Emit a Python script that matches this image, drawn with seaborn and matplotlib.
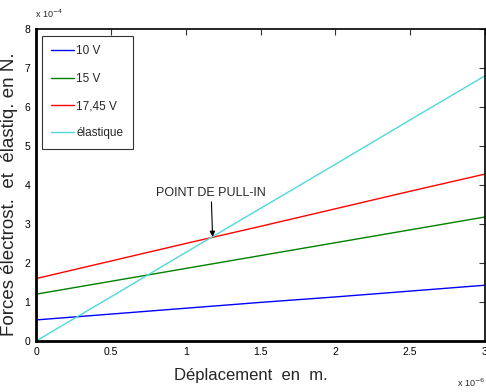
import matplotlib
matplotlib.use("Agg")
import matplotlib.pyplot as plt
import matplotlib.ticker as mticker
import seaborn as sns
import pandas as pd

# Data (x in m, y in N)
x_um = [0.0, 0.5, 1.0, 1.5, 2.0, 2.5, 3.0]          # ×1e-6 m
f_10v = [0.54, 0.69, 0.84, 0.99, 1.13, 1.28, 1.43]   # ×1e-4 N
f_15v = [1.20, 1.53, 1.86, 2.19, 2.52, 2.85, 3.18]
f_1745v = [1.60, 2.05, 2.50, 2.94, 3.39, 3.84, 4.28]
f_elast = [0.00, 1.13, 2.27, 3.40, 4.53, 5.67, 6.80]
series_names = ["10 V", "15 V", "17,45 V", "élastique"]
colors = ["#0000FF", "#008000", "#FF0000", "#4FD8D8"]
x_ticks = [0, 0.5, 1, 1.5, 2, 2.5, 3]
y_ticks = [0, 1, 2, 3, 4, 5, 6, 7, 8]
pull_in = (1.18, 2.67)

rows = []
for name, vals in zip(series_names, [f_10v, f_15v, f_1745v, f_elast]):
    for xv, yv in zip(x_um, vals):
        rows.append({"x": xv * 1e-6, "F": yv * 1e-4, "serie": name})
df = pd.DataFrame(rows)

sns.set_style("white")
plt.rcParams["font.family"] = ["Liberation Sans", "DejaVu Sans"]

fig = plt.figure(figsize=(4.86, 3.92), dpi=100)
ax = fig.add_axes([36/486, 1-341/392, (485-36)/486, (341-29)/392])

sns.lineplot(data=df, x="x", y="F", hue="serie", palette=colors,
             hue_order=series_names, ax=ax, linewidth=1.0, legend=True)

ax.set_xlim(0, 3e-6)
ax.set_ylim(0, 8e-4)
ax.set_xticks([v * 1e-6 for v in x_ticks])
ax.set_yticks([v * 1e-4 for v in y_ticks])
ax.xaxis.set_major_formatter(mticker.FuncFormatter(lambda v, p: f"{v*1e6:g}"))
ax.yaxis.set_major_formatter(mticker.FuncFormatter(lambda v, p: f"{v*1e4:g}"))
ax.tick_params(direction="in", length=4, width=0.8, labelsize=7.5,
               top=True, right=True, colors="#333333", labelcolor="black", pad=4)

for s in ["left", "bottom"]:
    ax.spines[s].set_linewidth(2.0)
for s in ["top", "right"]:
    ax.spines[s].set_linewidth(1.2)
for s in ax.spines.values():
    s.set_color("black")

ax.set_xlabel("Déplacement  en  m.", fontsize=12)
ax.xaxis.set_label_coords(0.478, -0.085)
ax.set_ylabel("Forces électrost.  et  élastiq. en N.", fontsize=13.5)
ax.yaxis.set_label_coords(-0.041, 0.47)

ax.text(-0.002, 1.03, r"x 10$^{-4}$", transform=ax.transAxes, fontsize=6.5,
        ha="left", va="bottom")
ax.text(1.0, -0.115, r"x 10$^{-6}$", transform=ax.transAxes, fontsize=6.5,
        ha="right", va="top")

ax.annotate("POINT DE PULL-IN", xy=(pull_in[0]*1e-6, pull_in[1]*1e-4),
            xytext=(1.17e-6, 3.65e-4), ha="center", va="bottom", fontsize=9,
            arrowprops=dict(arrowstyle="-|>", color="black", lw=0.8,
                            mutation_scale=8, shrinkA=0, shrinkB=0))

leg = ax.legend(loc="upper left", fontsize=8.5, frameon=True, fancybox=False,
                handlelength=1.9, handletextpad=0.2, borderpad=0.8,
                labelspacing=1.3, borderaxespad=0,
                bbox_to_anchor=(0.013, 0.978))
leg.get_frame().set_edgecolor("black")
leg.get_frame().set_linewidth(0.8)

fig.savefig("out.png", dpi=100)
